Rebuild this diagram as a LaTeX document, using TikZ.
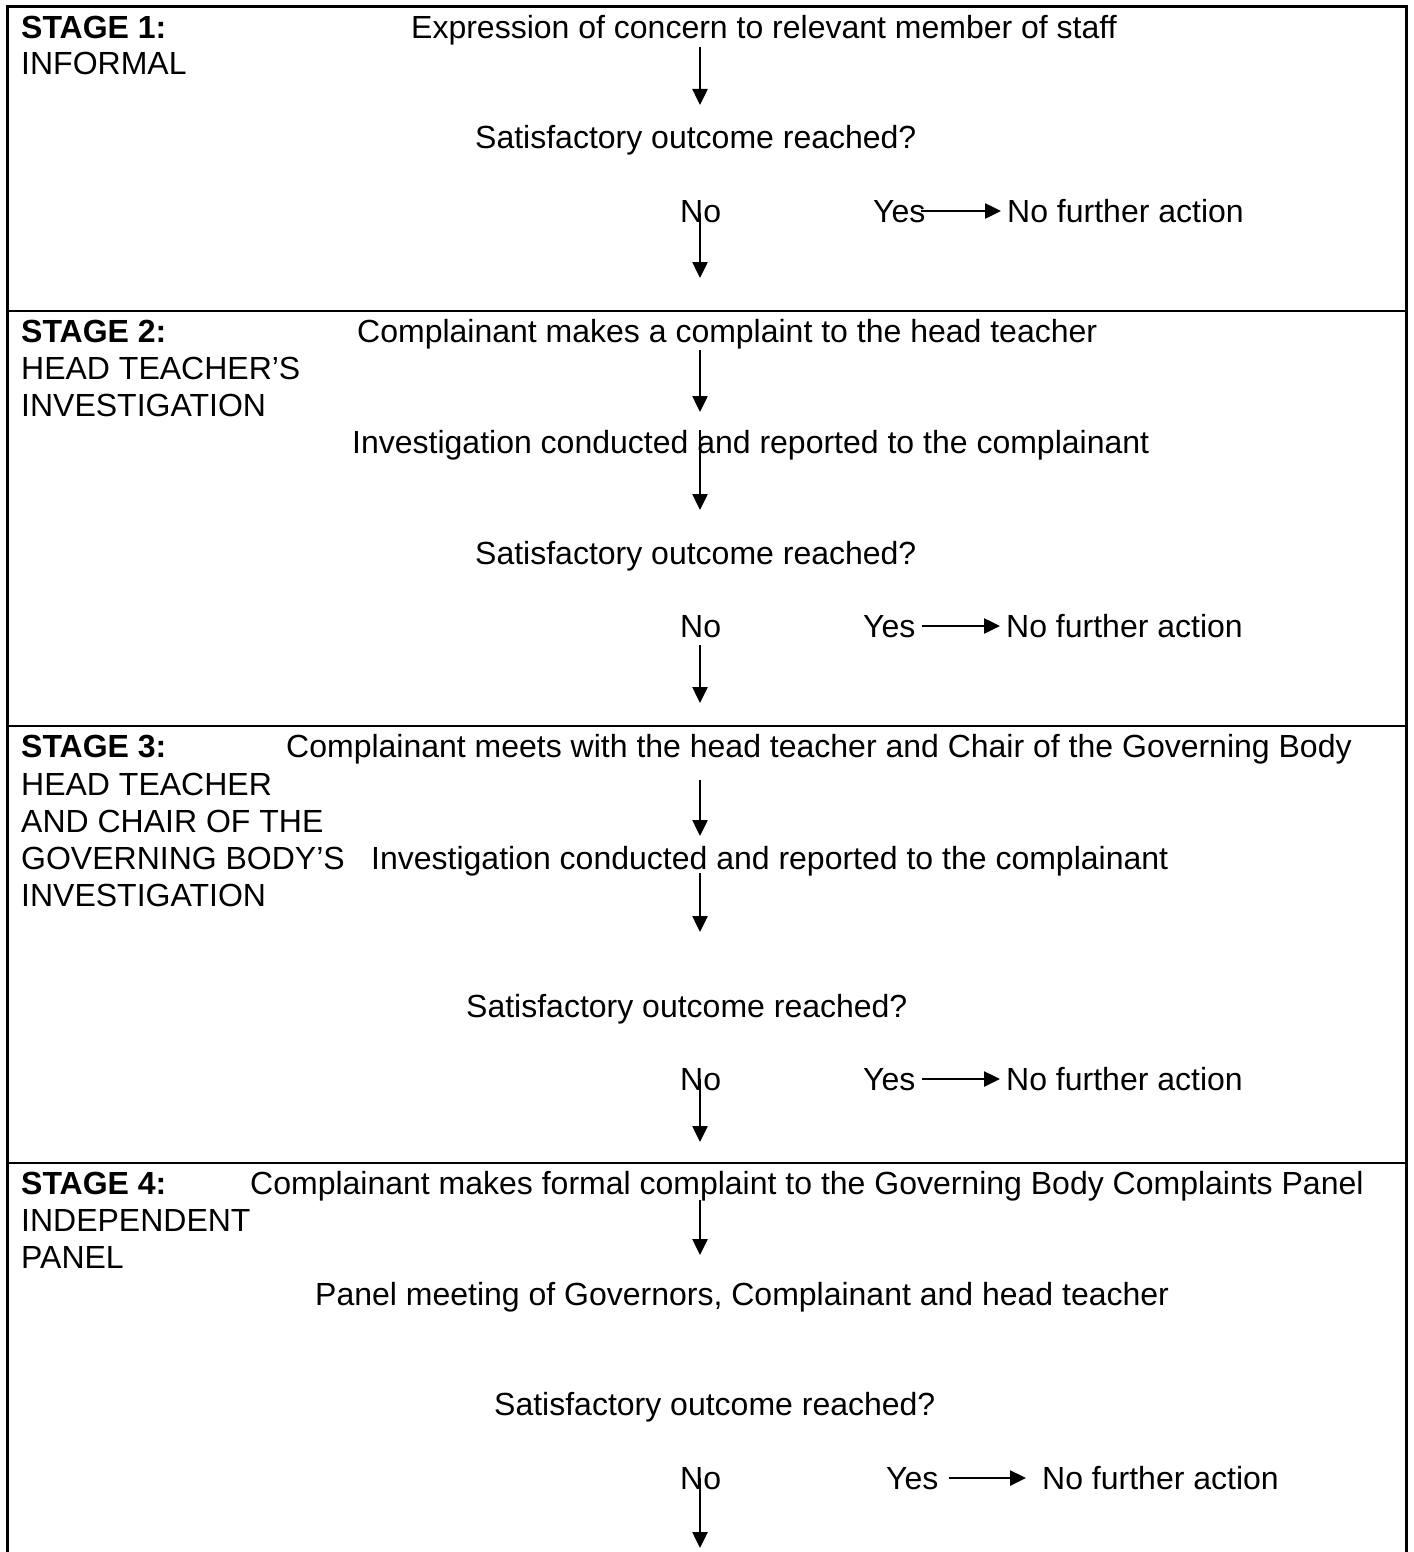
\documentclass[tikz,border=0pt]{standalone}
\usepackage{fontspec}
\setmainfont{Liberation Sans}
\usetikzlibrary{arrows.meta}
\tikzset{
  txt/.style={anchor=base west, inner sep=0pt, font=\fontsize{32}{37}\selectfont},
  hd/.style={txt, font=\fontsize{32}{37}\selectfont\bfseries},
  arr/.style={line width=2.5pt, -{Triangle[length=16pt,width=15pt]}},
  frame/.style={line width=3pt},
  divider/.style={line width=2.8pt}
}
\begin{document}
\begin{tikzpicture}[x=1pt,y=-1pt]
\useasboundingbox (0,0) rectangle (1413,1552);
% frame (open at bottom)
\draw[frame] (7,1552) -- (7,7) -- (1406,7) -- (1406,1552);
\draw[divider] (7,311) -- (1406,311);
\draw[divider] (7,726) -- (1406,726);
\draw[divider] (7,1163) -- (1406,1163);

% ---------- Stage 1 ----------
\node[hd]  (s1h) at (21,39) {STAGE 1:};
\node[txt] (s1a) at (21,75) {INFORMAL};
\node[txt] (e1) at (411,39) {Expression of concern to relevant member of staff};
\node[txt] (q1) at (475,149) {Satisfactory outcome reached?};
\node[txt] (no1) at (680,222) {No};
\node[txt] (yes1) at (873,222) {Yes};
\node[txt] (nfa1) at (1007,222) {No further action};
\coordinate (a1t) at (700,47);
\coordinate (a1b) at (700,105);
\coordinate (n1t) at (700,213);
\coordinate (n1b) at (700,278);
\draw[arr] (a1t) -- (a1b);
\draw[arr] (n1t) -- (n1b);
\draw[arr] ([xshift=-5pt,yshift=11pt]yes1.base east) -- ([xshift=-6pt,yshift=11pt]nfa1.base west);

% ---------- Stage 2 ----------
\node[hd]  (s2h) at (21,342) {STAGE 2:};
\node[txt] (s2a) at (21,379) {HEAD TEACHER’S};
\node[txt] (s2b) at (21,416) {INVESTIGATION};
\node[txt] (c2) at (357,342) {Complainant makes a complaint to the head teacher};
\node[txt] (i2) at (352,453) {Investigation conducted and reported to the complainant};
\node[txt] (q2) at (475,564) {Satisfactory outcome reached?};
\node[txt] (no2) at (680,637) {No};
\node[txt] (yes2) at (863,637) {Yes};
\node[txt] (nfa2) at (1006,637) {No further action};
\coordinate (b1t) at (700,350);
\coordinate (b1b) at (700,412);
\coordinate (b2t) at (700,430);
\coordinate (b2b) at (700,510);
\coordinate (n2t) at (700,645);
\coordinate (n2b) at (700,703);
\draw[arr] (b1t) -- (b1b);
\draw[arr] (b2t) -- (b2b);
\draw[arr] (n2t) -- (n2b);
\draw[arr] ([xshift=6pt,yshift=11pt]yes2.base east) -- ([xshift=-6pt,yshift=11pt]nfa2.base west);

% ---------- Stage 3 ----------
\node[hd]  (s3h) at (21,757) {STAGE 3:};
\node[txt] (s3a) at (21,795) {HEAD TEACHER};
\node[txt] (s3b) at (21,832) {AND CHAIR OF THE};
\node[txt] (s3c) at (21,869) {GOVERNING BODY’S};
\node[txt] (s3d) at (21,906) {INVESTIGATION};
\node[txt] (c3) at (286,757) {Complainant meets with the head teacher and Chair of the Governing Body};
\node[txt] (i3) at (371,869) {Investigation conducted and reported to the complainant};
\node[txt] (q3) at (466,1017) {Satisfactory outcome reached?};
\node[txt] (no3) at (680,1090) {No};
\node[txt] (yes3) at (863,1090) {Yes};
\node[txt] (nfa3) at (1006,1090) {No further action};
\coordinate (c1t) at (700,780);
\coordinate (c1b) at (700,836);
\coordinate (c2t) at (700,873);
\coordinate (c2b) at (700,932);
\coordinate (n3t) at (700,1079);
\coordinate (n3b) at (700,1142);
\draw[arr] (c1t) -- (c1b);
\draw[arr] (c2t) -- (c2b);
\draw[arr] (n3t) -- (n3b);
\draw[arr] ([xshift=6pt,yshift=11pt]yes3.base east) -- ([xshift=-6pt,yshift=11pt]nfa3.base west);

% ---------- Stage 4 ----------
\node[hd]  (s4h) at (21,1194) {STAGE 4:};
\node[txt] (s4a) at (21,1231) {INDEPENDENT};
\node[txt] (s4b) at (21,1268) {PANEL};
\node[txt] (c4) at (250,1194) {Complainant makes formal complaint to the Governing Body Complaints Panel};
\node[txt] (p4) at (315,1305) {Panel meeting of Governors, Complainant and head teacher};
\node[txt] (q4) at (494,1415) {Satisfactory outcome reached?};
\node[txt] (no4) at (680,1489) {No};
\node[txt] (yes4) at (886,1489) {Yes};
\node[txt] (nfa4) at (1042,1489) {No further action};
\coordinate (d1t) at (700,1200);
\coordinate (d1b) at (700,1255);
\coordinate (n4t) at (700,1478);
\coordinate (n4b) at (700,1548);
\draw[arr] (d1t) -- (d1b);
\draw[arr] (n4t) -- (n4b);
\draw[arr] ([xshift=10pt,yshift=11pt]yes4.base east) -- ([xshift=-16pt,yshift=11pt]nfa4.base west);
\end{tikzpicture}
\end{document}
